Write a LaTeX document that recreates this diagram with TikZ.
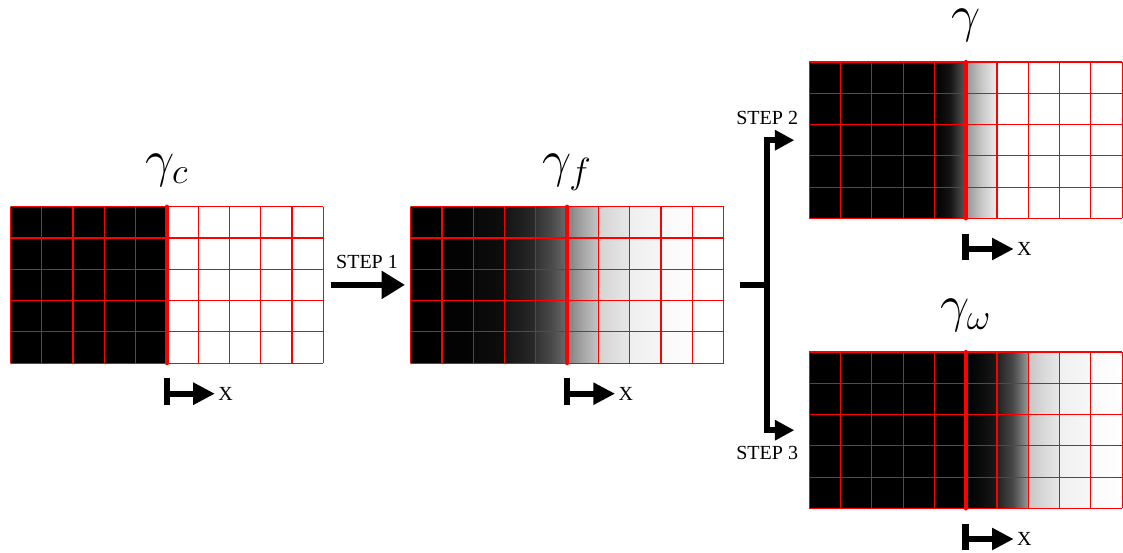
\documentclass[tikz,border=0pt]{standalone}
\usepackage{fix-cm}
\usepackage{fontspec}
\setmainfont{Liberation Serif}
\usetikzlibrary{arrows.meta,calc}

\tikzset{
  panelbox/.style={minimum width=312.8pt, minimum height=156.4pt, inner sep=0pt, outer sep=0pt},
  gridline/.style={red, line width=1.15pt},
  interface/.style={red, line width=4.3pt, line cap=round},
  gammalabel/.style={font=\fontsize{52}{52}\selectfont, inner sep=0pt, anchor=base},
  steplabel/.style={font=\fontsize{20}{20}\selectfont, inner sep=0pt},
  steparrow/.style={line width=6.7pt, -{Triangle[length=23.3pt,width=26.7pt]}},
  branch/.style={line width=5.7pt, line join=miter},
  brancharrow/.style={branch, -{Triangle[length=19.5pt,width=19.5pt]}},
  markbar/.style={line width=6.5pt},
  markarrow/.style={line width=6pt, -{Triangle[length=21.7pt,width=21pt]}},
  axislabel/.style={font=\fontsize{20}{20}\selectfont, inner sep=0.5pt, anchor=west},
}

% One 10x5 cell panel: every column is shaded left -> middle -> right,
% the values being the whiteness (0 = black, 100 = white).
\newcommand\drawpanel[2]{%
  \begin{scope}[shift={(#1.north west)}]
    \foreach \l/\m/\r [count=\i from 0] in {#2}
      \shade[left color=white!\l!black, right color=white!\r!black, middle color=white!\m!black]
        (\i*31.28,0) rectangle ++(31.28,156.4);
    \foreach \i in {0,...,10} \draw[gridline] (\i*31.28,0) -- ++(0,156.4);
    \foreach \j in {0,...,5} \draw[gridline] (0,\j*31.28) -- ++(312.8,0);
    \draw[interface] (156.4,0) -- ++(0,156.4);
  \end{scope}}

% Position marker under a panel: a bar at the interface and an arrow along x.
\newcommand\xmarker[3]{%
  \draw[markbar] ($(#1.south)+(0,15.2)$) -- ($(#1.south)+(0,42)$);
  \draw[markarrow] ($(#1.south)+(0,30.6)$) coordinate (#2) -- ($(#1.south)+(48,30.6)$)
    node[axislabel] (#3) {X};}

\begin{document}
\begin{tikzpicture}[x=1pt, y=-1pt]
  \useasboundingbox (0,0) rectangle (1123,553);
  \fill[white] (0,0) rectangle (1123,553);

  % panels
  \node[panelbox] (G1) at (166.9,284.9) {};
  \node[panelbox] (G2) at (567.1,284.9) {};
  \node[panelbox] (G3) at (965.7,140.2) {};
  \node[panelbox] (G4) at (965.7,430.2) {};

  \drawpanel{G1}{0/0/0,0/0/0,0/0/0,0/0/0,0/0/0,100/100/100,100/100/100,100/100/100,100/100/100,100/100/100}
  \drawpanel{G2}{0/0/0,1/1.2/1.5,3.5/4.2/5,8/12/16.5,20/29/42,50/65/77,83/87/90.5,93.5/95/96,97.5/98.5/99,99.5/100/100}
  \drawpanel{G3}{0/0/0,0/0/0,0/0/0,0/0/0,0/8/35,58/78/93,100/100/100,100/100/100,100/100/100,100/100/100}
  \drawpanel{G4}{0/0/0,0/0/0,0/0/0,0/0/0,0/0/0,0/4.5/10,13/28/60,78/85/91,94/95.5/97,98/99/99.6}

  % labels
  \node[gammalabel] (Lc) at ($(G1.north)+(0,-30.5)$) {$\gamma_c$};
  \node[gammalabel] (Lf) at ($(G2.north)+(0,-30.5)$) {$\gamma_f$};
  \node[gammalabel] (Lg) at ($(G3.north)+(0,-30.5)$) {$\gamma$};
  \node[gammalabel] (Lw) at ($(G4.north)+(0,-30.5)$) {$\gamma_\omega$};

  % x markers
  \xmarker{G1}{m1}{X1}
  \xmarker{G2}{m2}{X2}
  \xmarker{G3}{m3}{X3}
  \xmarker{G4}{m4}{X4}

  % step 1
  \draw[steparrow, shorten <=7.4pt, shorten >=5.7pt] (G1.east) -- (G2.west);
  \node[steplabel] (S1) at ($(G1.east)!0.5!(G2.west)+(0,-23)$) {STEP 1};

  % steps 2 and 3
  \coordinate (fork) at ($(G2.east)+(43.7,0)$);
  \coordinate (c3) at (fork |- G3.west);
  \coordinate (c4) at (fork |- G4.west);
  \draw[branch] ($(G2.east)+(16,0)$) -- (fork);
  \draw[brancharrow] (fork) |- ($(G3.west)+(-15,0)$);
  \draw[brancharrow] (fork) |- ($(G4.west)+(-15,0)$);
  \node[steplabel] (S2) at ($(c3)+(0,-22)$) {STEP 2};
  \node[steplabel] (S3) at ($(c4)+(0,22.5)$) {STEP 3};
\end{tikzpicture}
\end{document}
